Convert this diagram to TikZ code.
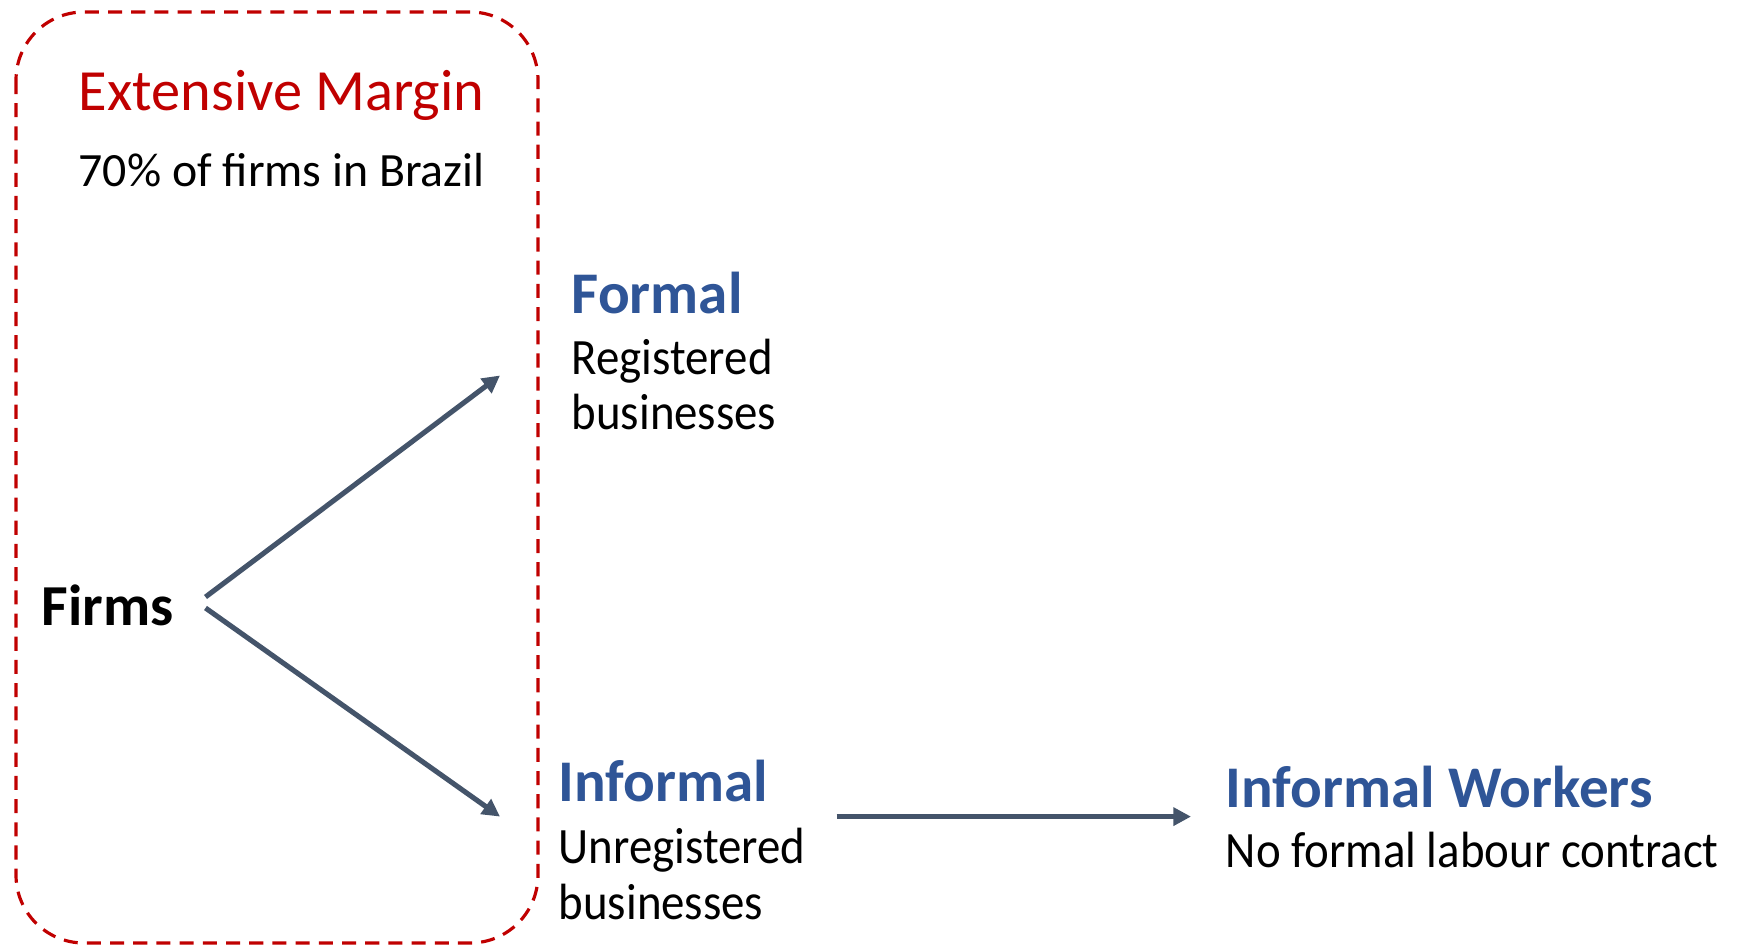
\documentclass[tikz,border=0pt]{standalone}
\usepackage{fontspec}
\setmainfont{Carlito}
\newfontfamily\narrowfont{Carlito}[FakeStretch=0.92]
\usepackage{xcolor}
\usetikzlibrary{arrows.meta}

\definecolor{marginred}{HTML}{C00000}
\definecolor{headblue}{HTML}{2F5597}
\definecolor{arrowgray}{HTML}{44546A}

\begin{document}
\begin{tikzpicture}[
    head/.style={anchor=base west, inner sep=0pt, text=headblue, font=\fontsize{16.8}{17}\selectfont\bfseries},
    sub/.style={anchor=base west, inner sep=0pt, align=left, font=\narrowfont\fontsize{14.5}{15.8}\selectfont},
    link/.style={draw=arrowgray, line width=1.45pt, -{Triangle[length=5pt,width=5pt]}}
  ]
    \useasboundingbox (0,0) rectangle (17.42,-9.45);

    % dashed margin box
    \draw [marginred, line width=0.9pt, dash pattern=on 4pt off 2.6pt, rounded corners=0.68cm]
        (0.16,-0.12) rectangle (5.38,-9.43);
    \node (title) at (0.78,-1.11) [anchor=base west, inner sep=0pt, text=marginred, font=\fontsize{16.6}{16.6}\selectfont] {Extensive Margin};
    \node (share) at (0.78,-1.87) [anchor=base west, inner sep=0pt, font=\fontsize{13.6}{13.6}\selectfont] {70\% of firms in Brazil};

    \node (firms) at (0.41,-6.25) [anchor=base west, inner sep=0pt, font=\fontsize{16.5}{16.5}\selectfont\bfseries] {Firms};

    % base anchor sits on the last line
    \node (formal) at (5.71,-3.14) [head] {Formal};
    \node (formaltxt) at (5.71,-4.30) [sub] {Registered\\businesses};

    \node (informal) at (5.58,-8.01) [head] {Informal};
    \node (informaltxt) at (5.58,-9.19) [sub] {Unregistered\\businesses};

    \node (workers) at (12.25,-8.07) [head] {Informal Workers};
    \node (workerstxt) at (12.25,-8.67) [sub] {No formal labour contract};

    \coordinate (s1) at (2.055,-5.97);
    \coordinate (s2) at (2.055,-6.08);
    \coordinate (e1) at (5.00,-3.755);
    \coordinate (e2) at (5.00,-8.166);
    \coordinate (s3) at (8.366,-8.166);
    \coordinate (e3) at (11.91,-8.166);

    \draw [link] (s1) -- (e1);
    \draw [link] (s2) -- (e2);
    \draw [link] (s3) -- (e3);

\end{tikzpicture}
\end{document}
